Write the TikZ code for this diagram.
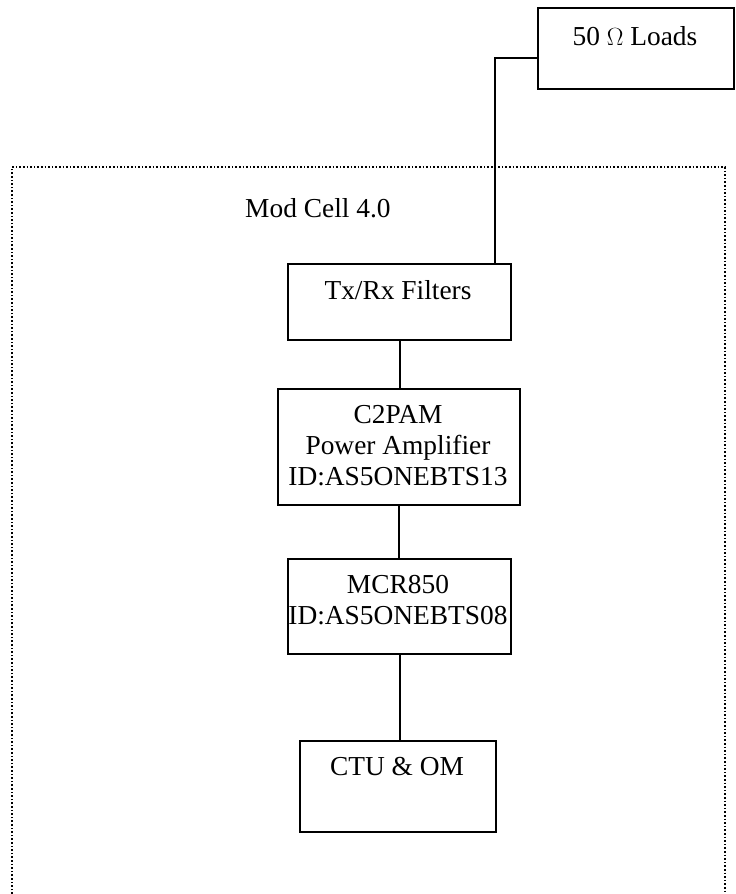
\documentclass[tikz,border=0pt]{standalone}
\usepackage{fontspec}
\setmainfont{Liberation Serif}
\usetikzlibrary{calc}
\begin{document}
\begin{tikzpicture}[x=1pt,y=-1pt,
  blockbox/.style={draw,line width=2pt,rectangle,inner sep=0pt,anchor=north west},
  wire/.style={line width=2pt},
  boundary/.style={line width=1.7pt,dash pattern=on 1.6pt off 2pt},
  lbl/.style={anchor=base,inner sep=0pt,font=\fontsize{27.4}{31}\selectfont}]
\useasboundingbox (0,0) rectangle (736,894);
% Mod Cell enclosure (open at the bottom)
\draw[boundary] (12,894) -- (12,167) -- (725,167) -- (725,894);
\node[lbl,anchor=base west] (cell) at (245,217) {Mod Cell 4.0};
% blocks
\node[blockbox,minimum width=196,minimum height=81] (loads) at (537,7) {};
\node[lbl] (loadst) at (635,45) {50 $\Omega$ Loads};
\node[blockbox,minimum width=223,minimum height=76] (tx) at (287,263) {};
\node[lbl] (txt) at (398,299) {Tx/Rx Filters};
\node[blockbox,minimum width=242,minimum height=116] (pa) at (277,388) {};
\node[lbl,align=center,anchor=north] (pat) at (398,405) {C2PAM\\Power Amplifier\\ID:AS5ONEBTS13};
\node[blockbox,minimum width=223,minimum height=95] (mcr) at (287,558) {};
\node[lbl,align=center,anchor=north] (mcrt) at (398,575) {MCR850\\ID:AS5ONEBTS08};
\node[blockbox,minimum width=196,minimum height=91] (ctu) at (299,740) {};
\node[lbl] (ctut) at (397,775) {CTU \& OM};
% connectors
\draw[wire] ([yshift=-9.5pt]loads.west) -| ($(tx.north west)!0.924!(tx.north east)$);
\draw[wire] (tx.south) -- (tx.south |- pa.north);
\draw[wire] (pa.south) -- (pa.south |- mcr.north);
\draw[wire] (mcr.south) -- (mcr.south |- ctu.north);
\end{tikzpicture}
\end{document}
